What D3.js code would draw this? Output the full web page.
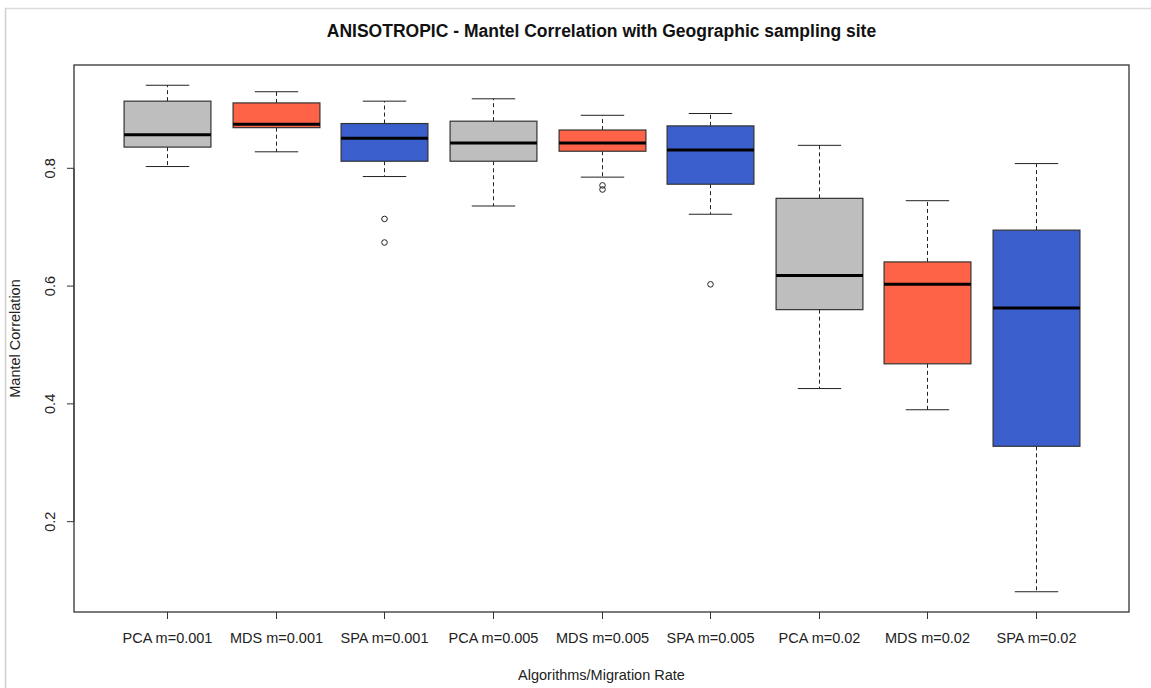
<!DOCTYPE html>
<html>
<head>
<meta charset="utf-8">
<script src="https://cdn.jsdelivr.net/npm/d3@7"></script>
<style>
  html, body { margin: 0; padding: 0; background: #fff; }
  svg { display: block; font-family: "Liberation Sans", Arial, sans-serif; }
</style>
</head>
<body>
<svg id="chart" width="1151" height="688"></svg>
<script>
// Groups: algorithm x migration rate
const categories = ["PCA m=0.001", "MDS m=0.001", "SPA m=0.001",
                    "PCA m=0.005", "MDS m=0.005", "SPA m=0.005",
                    "PCA m=0.02",  "MDS m=0.02",  "SPA m=0.02"];
const fillColors = ["#BEBEBE", "#FF6347", "#3A5FCD",
                    "#BEBEBE", "#FF6347", "#3A5FCD",
                    "#BEBEBE", "#FF6347", "#3A5FCD"];
// Five-number summaries for each group
const whiskerLow  = [0.803, 0.828, 0.786, 0.736, 0.785, 0.722, 0.426, 0.390, 0.081];
const q1          = [0.836, 0.869, 0.812, 0.812, 0.829, 0.773, 0.560, 0.468, 0.328];
const medians     = [0.857, 0.875, 0.851, 0.843, 0.843, 0.831, 0.618, 0.603, 0.563];
const q3          = [0.914, 0.911, 0.876, 0.880, 0.865, 0.872, 0.749, 0.641, 0.695];
const whiskerHigh = [0.941, 0.930, 0.914, 0.918, 0.890, 0.893, 0.839, 0.745, 0.808];
// Outlying points per group
const outliers = [[], [], [0.714, 0.674], [], [0.771, 0.764], [0.603], [], [], []];
const yTicks = [0.2, 0.4, 0.6, 0.8];

const svg = d3.select("#chart");

// Light frame lines along the top and left
svg.append("line").attr("x1", 5).attr("x2", 1151).attr("y1", 8.5).attr("y2", 8.5)
  .attr("stroke", "#dcdcdc").attr("stroke-width", 1.5);
svg.append("line").attr("x1", 5.5).attr("x2", 5.5).attr("y1", 8).attr("y2", 688)
  .attr("stroke", "#d0d0d0").attr("stroke-width", 1.5);

const plot = { left: 74, right: 1129, top: 65, bottom: 612 };

// R-style 4% padded domains
const xDomain = [0.5 - 0.36, categories.length + 0.5 + 0.36];
const yMin = d3.min(whiskerLow), yMax = d3.max(whiskerHigh);
const yPad = (yMax - yMin) * 0.04;
const x = d3.scaleLinear().domain(xDomain).range([plot.left, plot.right]);
const y = d3.scaleLinear().domain([yMin - yPad, yMax + yPad]).range([plot.bottom, plot.top]);

const unit = x(2) - x(1);
const boxHalf = unit * 0.4;
const capHalf = boxHalf * 0.5;

const labelSize = 14.5;

const g = svg.append("g");

categories.forEach((c, i) => {
  const cx = Math.round(x(i + 1)) + 0.5;
  const grp = g.append("g");
  // whiskers (dashed)
  grp.append("line").attr("x1", cx).attr("x2", cx)
    .attr("y1", y(q3[i])).attr("y2", y(whiskerHigh[i]))
    .attr("stroke", "#222").attr("stroke-dasharray", "4,3");
  grp.append("line").attr("x1", cx).attr("x2", cx)
    .attr("y1", y(q1[i])).attr("y2", y(whiskerLow[i]))
    .attr("stroke", "#222").attr("stroke-dasharray", "4,3");
  // caps
  [whiskerHigh[i], whiskerLow[i]].forEach(v => {
    grp.append("line").attr("x1", cx - capHalf).attr("x2", cx + capHalf)
      .attr("y1", y(v)).attr("y2", y(v)).attr("stroke", "#222");
  });
  // box
  grp.append("rect")
    .attr("x", cx - boxHalf).attr("width", boxHalf * 2)
    .attr("y", y(q3[i])).attr("height", y(q1[i]) - y(q3[i]))
    .attr("fill", fillColors[i]).attr("stroke", "#333").attr("stroke-width", 1.2);
  // median
  grp.append("line").attr("x1", cx - boxHalf).attr("x2", cx + boxHalf)
    .attr("y1", y(medians[i])).attr("y2", y(medians[i]))
    .attr("stroke", "#000").attr("stroke-width", 3);
  // outliers
  outliers[i].forEach(v => {
    grp.append("circle").attr("cx", cx).attr("cy", y(v)).attr("r", 2.8)
      .attr("fill", "none").attr("stroke", "#222").attr("stroke-width", 1);
  });
});

// Plot frame
svg.append("rect")
  .attr("x", plot.left).attr("y", plot.top)
  .attr("width", plot.right - plot.left).attr("height", plot.bottom - plot.top)
  .attr("fill", "none").attr("stroke", "#333").attr("stroke-width", 1.3);

// Y axis: ticks and rotated labels
const yAxis = svg.append("g");
yAxis.append("line").attr("x1", plot.left).attr("x2", plot.left)
  .attr("y1", y(yTicks[0])).attr("y2", y(yTicks[yTicks.length - 1])).attr("stroke", "#333");
yTicks.forEach(t => {
  yAxis.append("line").attr("x1", plot.left).attr("x2", plot.left - 7)
    .attr("y1", y(t)).attr("y2", y(t)).attr("stroke", "#333");
  yAxis.append("text")
    .attr("transform", `translate(55,${y(t)}) rotate(-90)`)
    .attr("text-anchor", "middle").attr("font-size", labelSize).attr("fill", "#222")
    .text(d3.format(".1f")(t));
});

// X axis: ticks and category labels
const xAxis = svg.append("g");
categories.forEach((c, i) => {
  const cx = Math.round(x(i + 1)) + 0.5;
  xAxis.append("line").attr("x1", cx).attr("x2", cx)
    .attr("y1", plot.bottom).attr("y2", plot.bottom + 7).attr("stroke", "#333");
  xAxis.append("text").attr("x", cx).attr("y", 643)
    .attr("text-anchor", "middle").attr("font-size", labelSize).attr("fill", "#222")
    .text(c);
});

// Titles
svg.append("text").attr("x", (plot.left + plot.right) / 2).attr("y", 37)
  .attr("text-anchor", "middle").attr("font-size", 17.5).attr("font-weight", "bold")
  .attr("fill", "#111")
  .text("ANISOTROPIC - Mantel Correlation with Geographic sampling site");
svg.append("text").attr("x", (plot.left + plot.right) / 2).attr("y", 680)
  .attr("text-anchor", "middle").attr("font-size", labelSize).attr("fill", "#222")
  .text("Algorithms/Migration Rate");
svg.append("text")
  .attr("transform", `translate(20,${(plot.top + plot.bottom) / 2}) rotate(-90)`)
  .attr("text-anchor", "middle").attr("font-size", labelSize).attr("fill", "#222")
  .text("Mantel Correlation");
</script>
</body>
</html>
